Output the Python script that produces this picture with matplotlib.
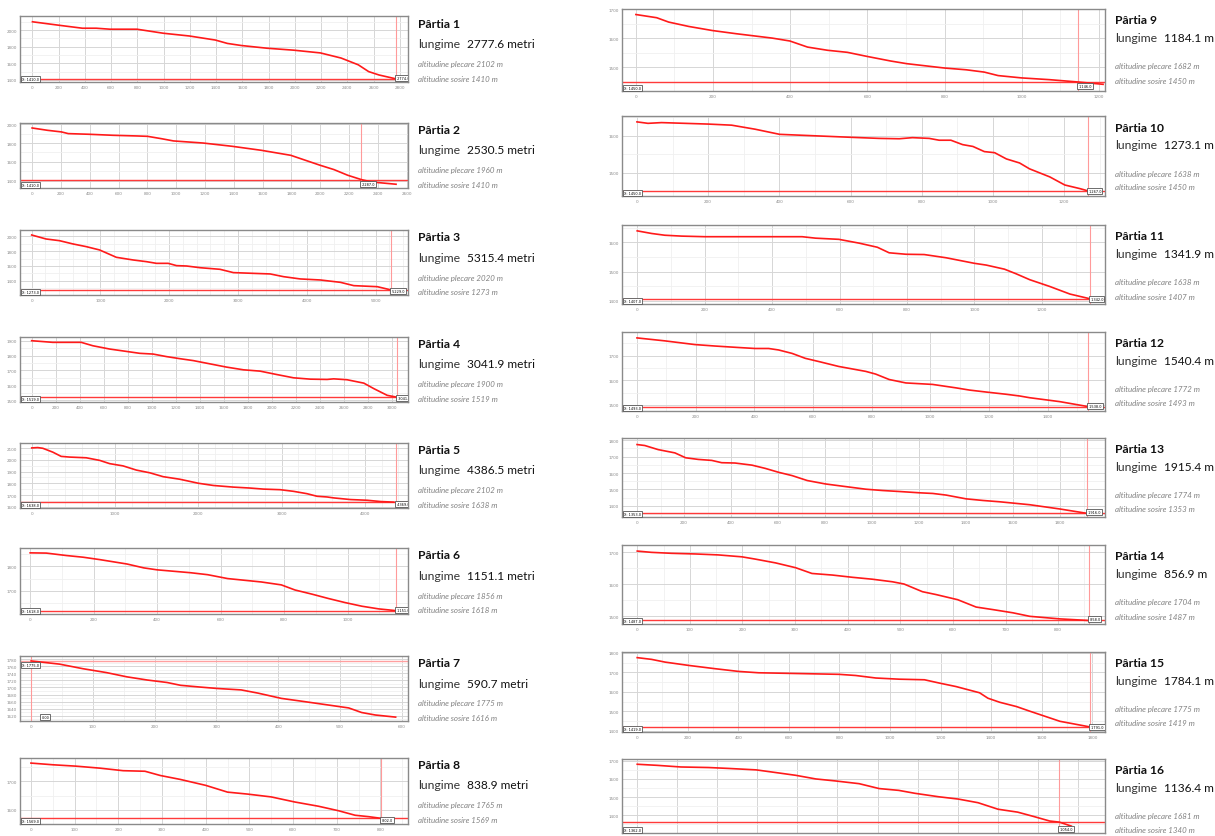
import matplotlib
matplotlib.use("Agg")
import matplotlib.pyplot as plt
from matplotlib.ticker import MultipleLocator, FuncFormatter

# elevation profiles: distance along slope (m), altitude (m)
p1_dist = [0, 197, 381, 486, 592, 797, 999, 1196, 1394, 1486, 1591, 1788, 1993, 2195, 2353, 2484, 2563, 2642, 2774]
p1_elev = [2102, 2061, 2024, 2024, 2012, 2012, 1963, 1930, 1881, 1840, 1815, 1782, 1758, 1725, 1663, 1581, 1499, 1458, 1410]
p2_dist = [0, 108, 204, 251, 395, 563, 730, 802, 898, 982, 1186, 1389, 1593, 1796, 2000, 2096, 2191, 2287, 2359, 2527]
p2_elev = [1960, 1935, 1918, 1900, 1893, 1882, 1875, 1871, 1846, 1822, 1800, 1765, 1722, 1669, 1563, 1517, 1457, 1410, 1385, 1361]
p3_dist = [0, 209, 404, 598, 793, 987, 1231, 1474, 1668, 1814, 1985, 2106, 2252, 2447, 2738, 2933, 3225, 3468, 3663, 3906, 4198, 4490, 4684, 5025, 5229]
p3_elev = [2020, 1966, 1943, 1899, 1862, 1817, 1717, 1681, 1658, 1635, 1635, 1604, 1599, 1576, 1554, 1509, 1499, 1491, 1454, 1423, 1409, 1377, 1332, 1318, 1273]
p4_dist = [0, 175, 412, 509, 648, 787, 899, 1010, 1121, 1232, 1344, 1483, 1622, 1761, 1900, 2039, 2178, 2317, 2457, 2512, 2623, 2763, 2846, 2957, 3041]
p4_elev = [1900, 1889, 1889, 1866, 1844, 1828, 1815, 1810, 1793, 1779, 1766, 1744, 1722, 1704, 1695, 1672, 1650, 1641, 1639, 1643, 1637, 1614, 1577, 1532, 1519]
p5_dist = [0, 72, 133, 253, 353, 454, 655, 815, 936, 1096, 1257, 1418, 1578, 1779, 2000, 2181, 2422, 2622, 2783, 2984, 3144, 3305, 3426, 3546, 3626, 3827, 4028, 4189, 4349]
p5_elev = [2102, 2105, 2099, 2066, 2030, 2024, 2018, 1996, 1968, 1949, 1913, 1890, 1857, 1835, 1801, 1782, 1768, 1760, 1751, 1746, 1732, 1712, 1690, 1684, 1676, 1662, 1656, 1645, 1640]
p6_dist = [0, 51, 114, 167, 220, 305, 358, 400, 453, 506, 559, 622, 675, 728, 791, 834, 887, 939, 992, 1045, 1098, 1151]
p6_elev = [1856, 1855, 1845, 1838, 1828, 1810, 1794, 1786, 1780, 1774, 1766, 1750, 1743, 1736, 1724, 1703, 1686, 1668, 1651, 1636, 1625, 1618]
p7_dist = [0, 46, 84, 122, 155, 188, 220, 242, 274, 302, 340, 367, 405, 438, 470, 514, 535, 557, 590]
p7_elev = [1775, 1766, 1753, 1742, 1730, 1721, 1714, 1706, 1701, 1697, 1693, 1684, 1669, 1661, 1653, 1642, 1629, 1622, 1616]
p8_dist = [0, 50, 104, 158, 211, 261, 296, 342, 400, 450, 496, 550, 604, 658, 704, 742, 773, 802]
p8_elev = [1765, 1759, 1754, 1747, 1738, 1736, 1721, 1707, 1686, 1662, 1655, 1645, 1627, 1612, 1596, 1580, 1575, 1569]
p9_dist = [0, 54, 85, 137, 198, 260, 353, 399, 445, 497, 548, 599, 661, 702, 800, 856, 903, 939, 1000, 1072, 1146, 1211]
p9_elev = [1682, 1671, 1656, 1641, 1627, 1616, 1601, 1591, 1570, 1559, 1552, 1538, 1522, 1513, 1498, 1492, 1484, 1472, 1464, 1458, 1450, 1442]
p10_dist = [0, 31, 69, 200, 266, 332, 401, 501, 600, 680, 737, 774, 821, 849, 882, 915, 944, 976, 1005, 1038, 1075, 1103, 1160, 1202, 1245, 1267]
p10_elev = [1638, 1634, 1636, 1632, 1629, 1618, 1604, 1600, 1596, 1593, 1592, 1595, 1593, 1588, 1588, 1576, 1571, 1557, 1554, 1537, 1526, 1510, 1488, 1466, 1456, 1450]
p11_dist = [0, 43, 82, 132, 201, 330, 489, 529, 598, 658, 712, 747, 797, 851, 916, 1000, 1035, 1089, 1124, 1164, 1223, 1283, 1342]
p11_elev = [1639, 1630, 1624, 1621, 1619, 1619, 1619, 1614, 1610, 1597, 1583, 1564, 1559, 1558, 1547, 1528, 1522, 1508, 1492, 1472, 1449, 1423, 1407]
p12_dist = [0, 95, 197, 266, 346, 403, 449, 483, 529, 574, 620, 688, 780, 814, 860, 917, 1008, 1088, 1134, 1191, 1259, 1305, 1339, 1442, 1538]
p12_elev = [1772, 1760, 1745, 1739, 1733, 1729, 1729, 1723, 1709, 1689, 1676, 1656, 1636, 1625, 1603, 1589, 1583, 1569, 1560, 1552, 1543, 1536, 1529, 1513, 1493]
p13_dist = [0, 33, 90, 161, 207, 261, 318, 360, 417, 489, 546, 603, 660, 724, 802, 887, 973, 1044, 1115, 1201, 1258, 1315, 1400, 1472, 1543, 1614, 1671, 1799, 1916]
p13_elev = [1774, 1768, 1743, 1723, 1693, 1683, 1677, 1663, 1661, 1648, 1628, 1604, 1584, 1554, 1533, 1517, 1501, 1493, 1487, 1479, 1475, 1465, 1442, 1432, 1424, 1414, 1406, 1380, 1353]
p14_dist = [0, 27, 65, 110, 154, 199, 224, 263, 301, 332, 371, 409, 447, 485, 507, 542, 568, 609, 644, 676, 714, 746, 803, 858]
p14_elev = [1704, 1700, 1697, 1695, 1692, 1686, 1679, 1667, 1652, 1634, 1629, 1622, 1616, 1608, 1601, 1577, 1568, 1552, 1529, 1521, 1511, 1500, 1492, 1487]
p15_dist = [0, 57, 110, 203, 308, 401, 480, 600, 798, 864, 944, 1036, 1136, 1195, 1261, 1354, 1387, 1434, 1500, 1553, 1672, 1791]
p15_elev = [1776, 1767, 1753, 1736, 1719, 1705, 1698, 1695, 1690, 1684, 1671, 1665, 1662, 1645, 1627, 1595, 1567, 1546, 1524, 1500, 1448, 1419]
p16_dist = [0, 50, 109, 178, 228, 297, 337, 396, 446, 495, 554, 604, 653, 693, 752, 802, 851, 901, 950, 990, 1030, 1054, 1084]
p16_elev = [1681, 1675, 1666, 1663, 1658, 1650, 1638, 1620, 1600, 1589, 1574, 1547, 1537, 1521, 1502, 1489, 1469, 1433, 1417, 1393, 1368, 1362, 1340]

lengths = ["2777.6", "2530.5", "5315.4", "3041.9", "4386.5", "1151.1", "590.7", "838.9",
           "1184.1", "1273.1", "1341.9", "1540.4", "1915.4", "856.9", "1784.1", "1136.4"]
alt_start = [2102, 1960, 2020, 1900, 2102, 1856, 1775, 1765, 1682, 1638, 1638, 1772, 1774, 1704, 1775, 1681]
alt_end = [1410, 1410, 1273, 1519, 1638, 1618, 1616, 1569, 1450, 1450, 1407, 1493, 1353, 1487, 1419, 1340]
# red cursor of each profile (distance, altitude)
cursor_x = [2774, 2287, 5229, 3041, 4369, 1151, 0, 802, 1146, 1267, 1342, 1538, 1916, 858, 1791, 1054]
cursor_y = [1410, 1410, 1273, 1519, 1638, 1618, 1775, 1569, 1450, 1450, 1407, 1493, 1353, 1487, 1419, 1362]

dists = [p1_dist, p2_dist, p3_dist, p4_dist, p5_dist, p6_dist, p7_dist, p8_dist,
         p9_dist, p10_dist, p11_dist, p12_dist, p13_dist, p14_dist, p15_dist, p16_dist]
elevs = [p1_elev, p2_elev, p3_elev, p4_elev, p5_elev, p6_elev, p7_elev, p8_elev,
         p9_elev, p10_elev, p11_elev, p12_elev, p13_elev, p14_elev, p15_elev, p16_elev]

# axis view per panel: xlim, ylim, x grid, x label step, y step
views = [
    ((-95, 2863), (1373, 2172), 200, 200, 200),
    ((-84, 2610), (1321, 2013), 200, 200, 200),
    ((-170, 5472), (1205, 2088), 200, 1000, 200),
    ((-97, 3130), (1487, 1925), 200, 200, 100),
    ((-141, 4518), (1590, 2144), 200, 1000, 100),
    ((-32, 1190), (1604, 1876), 100, 200, 100),
    ((-18, 610), (1605, 1789), 50, 100, 20),
    ((-25, 863), (1549, 1783), 50, 100, 100),
    ((-36, 1216), (1419, 1701), 100, 200, 100),
    ((-42, 1315), (1436, 1654), 100, 200, 100),
    ((-45, 1387), (1389, 1659), 100, 200, 100),
    ((-51, 1596), (1475, 1796), 100, 200, 100),
    ((-64, 1991), (1331, 1814), 100, 200, 100),
    ((-29, 889), (1476, 1723), 50, 100, 100),
    ((-60, 1850), (1393, 1805), 100, 200, 100),
    ((-38, 1168), (1302, 1710), 100, 100, 100),
]

W, H = 1215, 837
left_box = [(17, 83), (124, 189), (231, 296), (338, 403), (444, 509), (549, 615), (657, 722), (759, 825)]
right_box = [(10, 92), (117, 197), (226, 305), (333, 412), (439, 518), (546, 625), (653, 733), (760, 834)]

fig = plt.figure(figsize=(W / 100, H / 100), dpi=100)
fig.patch.set_facecolor("white")

fmt = FuncFormatter(lambda v, p: f"{v:.0f}")
FONT = ["Lato", "DejaVu Sans"]

for i in range(16):
    if i < 8:
        x0, x1 = 20, 408
        top, bot = left_box[i]
        tx = 418
        ty = [top + 7, top + 27, top + 47, top + 62]
        unit = "metri"
    else:
        x0, x1 = 622, 1105
        top, bot = right_box[i - 8]
        tx = 1115
        ty = [top + 11, top + 29, top + 57, top + 71]
        unit = "m"
    ax = fig.add_axes([x0 / W, 1 - bot / H, (x1 - x0) / W, (bot - top) / H])
    (xl, yl, xg, xlab, ys) = views[i]
    ax.set_xlim(xl); ax.set_ylim(yl)
    ax.xaxis.set_major_locator(MultipleLocator(xlab))
    ax.xaxis.set_minor_locator(MultipleLocator(xg))
    ax.yaxis.set_major_locator(MultipleLocator(ys))
    ax.yaxis.set_minor_locator(MultipleLocator(ys / 2))
    ax.xaxis.set_major_formatter(fmt); ax.yaxis.set_major_formatter(fmt)
    ax.grid(which="major", color="#d6d6d6", lw=0.7)
    ax.grid(which="minor", color="#f0f0f0", lw=0.6)
    ax.set_axisbelow(True)
    ax.tick_params(which="both", length=0, labelsize=3, colors="#8a8a8a", pad=2)
    if i == 15:
        ax.tick_params(axis="x", labelbottom=False)
    for s in ax.spines.values():
        s.set_color("#8a8a8a"); s.set_linewidth(1.0)

    hcol = "#ffa0a0" if i == 6 else "#ff3a3a"
    ax.axhline(cursor_y[i], color=hcol, lw=1.0, zorder=2)
    ax.axvline(cursor_x[i], color="#ff9a9a", lw=0.8, zorder=2)
    ax.plot(dists[i], elevs[i], color="#ff1a1a", lw=1.2, zorder=3)

    # little readout boxes of the cursor
    box = dict(boxstyle="square,pad=0.3", fc="white", ec="#555555", lw=0.6)
    if i == 6:
        ax.text(0.005, 0.86, f"X: {alt_start[i]}.0", transform=ax.transAxes, fontsize=2.5,
                va="center", ha="left", bbox=box, zorder=5)
        ax.text(0.055, 0.06, "0.00", transform=ax.transAxes, fontsize=2.5,
                va="center", ha="left", bbox=box, zorder=5)
    else:
        ax.text(0.004, 0.04, f"X: {cursor_y[i]}.0", transform=ax.transAxes, fontsize=2.5,
                va="center", ha="left", bbox=box, zorder=5)
        ax.text(cursor_x[i], yl[0] + 0.06 * (yl[1] - yl[0]), f" {cursor_x[i]}.0", fontsize=2.5,
                va="center", ha="left", bbox=box, zorder=5, clip_on=True)

    fig.text(tx / W, 1 - ty[0] / H, f"Pârtia {i + 1}", fontsize=8.7, fontweight="bold",
             family=FONT, color="#111111", va="center")
    fig.text(tx / W, 1 - ty[1] / H, "lungime", fontsize=8.8, fontweight="normal",
             family=FONT, color="#333333", va="center")
    fig.text((tx + 49) / W, 1 - ty[1] / H, f"{lengths[i]} {unit}", fontsize=8.6,
             family=FONT, color="#111111", va="center")
    fig.text(tx / W, 1 - ty[2] / H, f"altitudine plecare {alt_start[i]} m", fontsize=5.7,
             style="italic", family=FONT, color="#808080", va="center")
    fig.text(tx / W, 1 - ty[3] / H, f"altitudine sosire {alt_end[i]} m", fontsize=5.7,
             style="italic", family=FONT, color="#808080", va="center")

fig.savefig("out.png", dpi=100, facecolor="white")
